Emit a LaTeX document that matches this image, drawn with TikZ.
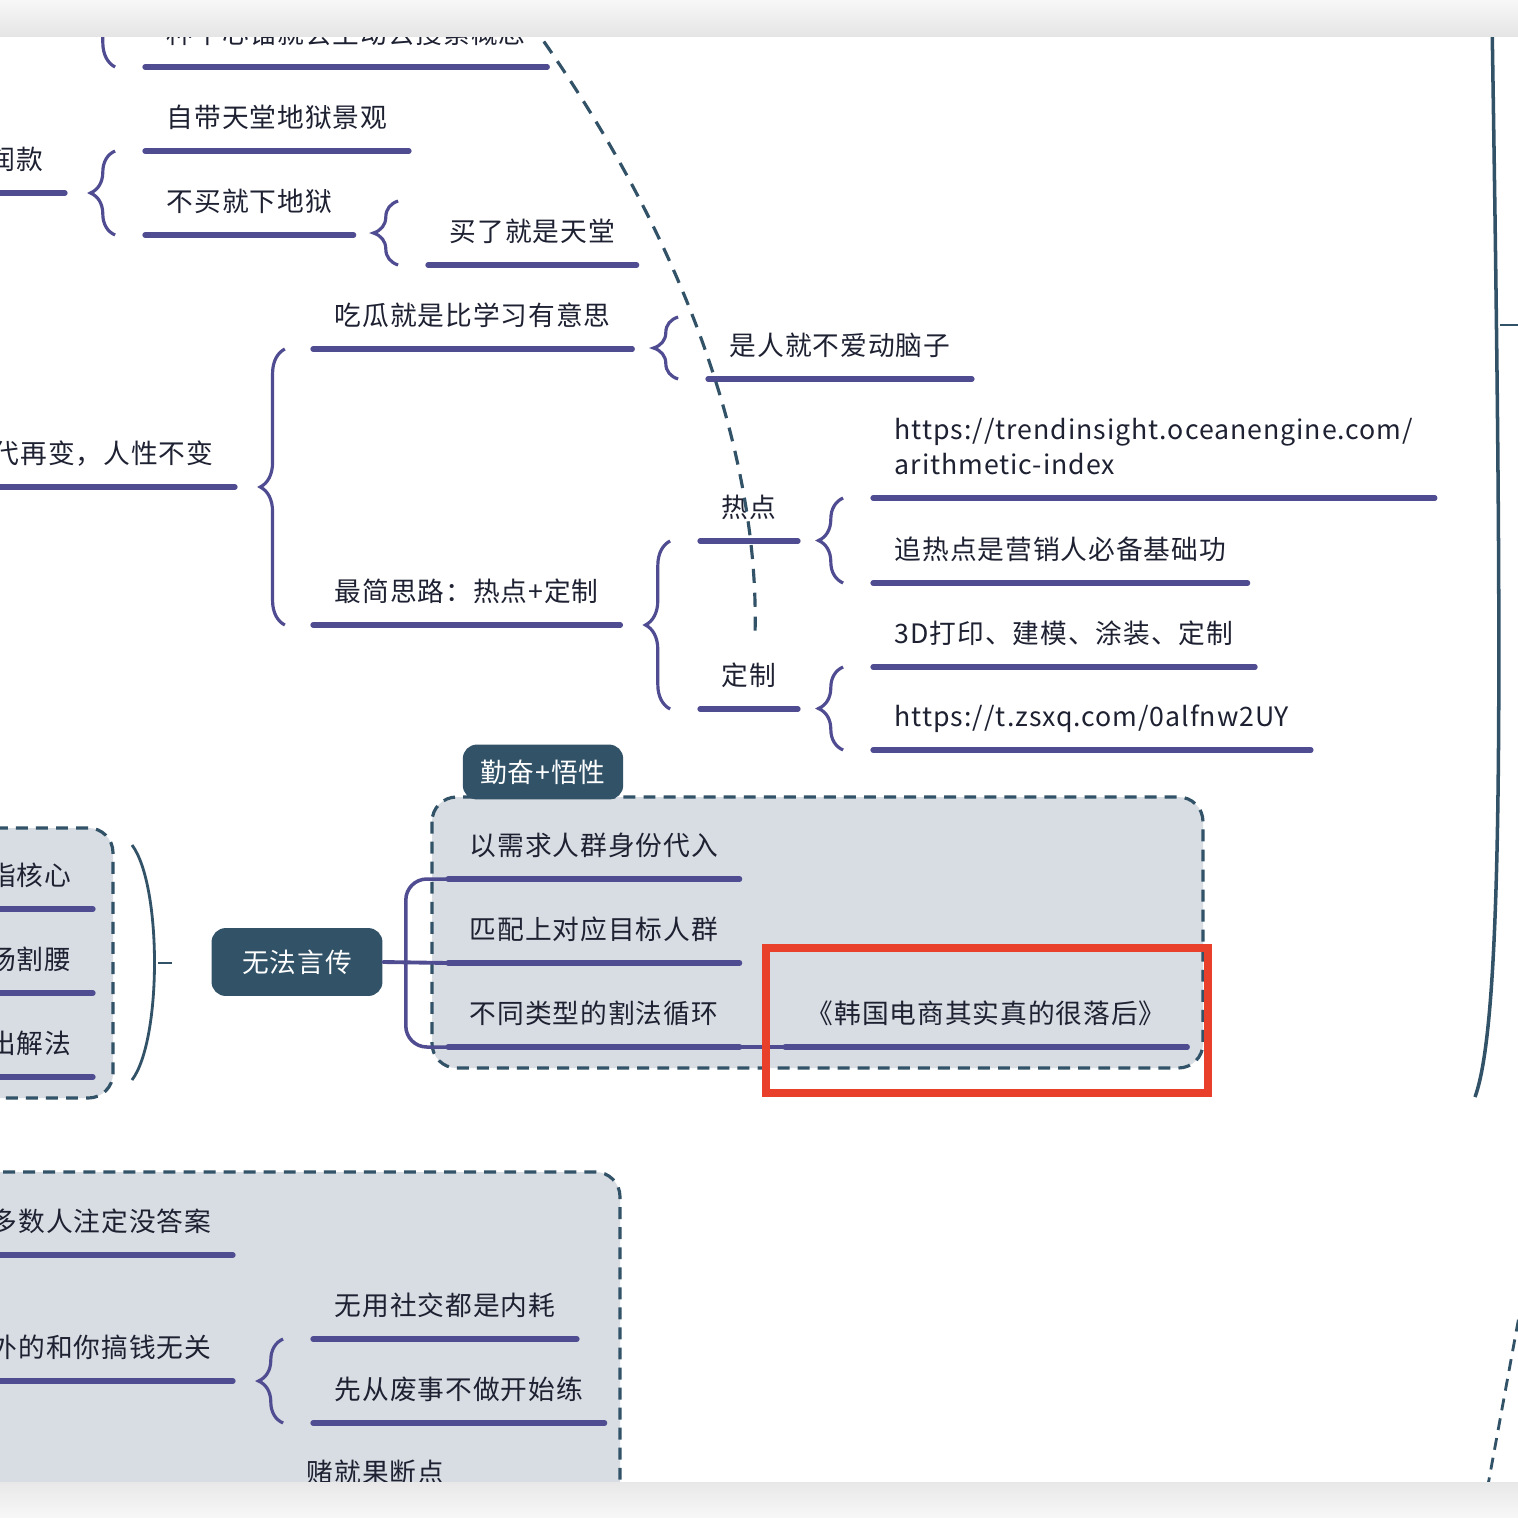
\documentclass[tikz,border=0pt]{standalone}
\usepackage{fontspec}
\setmainfont{Noto Sans CJK SC}[LetterSpace=3.5]
\usetikzlibrary{positioning, calc, decorations.pathreplacing}
\definecolor{mmpurple}{RGB}{80, 76, 145}
\definecolor{mmteal}{RGB}{50, 82, 104}
\definecolor{mmgray}{RGB}{215, 221, 226}
\definecolor{mmink}{RGB}{30, 33, 50}
\definecolor{mmred}{RGB}{232, 64, 42}

\begin{document}
\begin{tikzpicture}[x=0.01cm, y=-0.01cm,
  topic/.style={anchor=south west, font=\fontsize{7.6}{10}\selectfont, text=mmink, inner xsep=6pt, inner ysep=0pt, text depth=6.5pt},
  topicr/.style={topic, anchor=south east},
  uline/.style={draw=mmpurple, line width=1.5pt, line cap=round},
  brc/.style={draw=mmpurple, line width=0.9pt, decorate, decoration={brace, amplitude=7pt}},
  dbox/.style={draw=mmteal, fill=mmgray, line width=0.9pt, dash pattern=on 3.4pt off 2.3pt, rounded corners=7pt},
  tealbox/.style={fill=mmteal, text=white, rounded corners=4pt, font=\fontsize{7.6}{10}\selectfont},
  tealline/.style={draw=mmteal, line width=0.8pt}
]
\useasboundingbox (0,0) rectangle (1518,1518);
\clip (0,0) rectangle (1518,1518);
\fill[white] (0,0) rectangle (1518,1518);

% grey boxes
\draw[dbox] (-40,828) rectangle (113,1098);
\draw[dbox] (432,797) rectangle (1203,1068);
\draw[dbox] (-40,1172) rectangle (620,1560);
\node[tealbox, minimum width=45.6pt, minimum height=15.6pt] (tab) at (543,772) {勤奋+悟性};

% upper branch
\node[topic] (xinmao) at (145,67) {种个心锚就会主动去搜索概念};
\node[topic] (jingguan) at (145,151) {自带天堂地狱景观};
\node[topicr] (runkuan) at (65,193) {利润款};
\node[topic] (xiadiyu) at (145,235) {不买就下地狱};
\node[topic] (tiantang) at (428,265) {买了就是天堂};
\node[topicr] (renxing) at (235,487) {时代再变，人性不变};
\node[topic] (chigua) at (313,349) {吃瓜就是比学习有意思};
\node[topic] (dongnao) at (708,379) {是人就不爱动脑子};
\node[topic] (silu) at (313,625) {最简思路：热点+定制};
\node[topic] (redian) at (700,541) {热点};
\node[topic] (dingzhi) at (700,709) {定制};
\node[topic, align=left] (url1) at (873,498) {https://trendinsight.oceanengine.com/\\arithmetic-index};
\node[topic] (zhui) at (873,583) {追热点是营销人必备基础功};
\node[topic] (dayin) at (873,667) {3D打印、建模、涂装、定制};
\node[topic] (url2) at (873,750) {https://t.zsxq.com/0alfnw2UY};

% middle branch
\node[tealbox, minimum width=48.6pt, minimum height=19.3pt] (wufa) at (297,962) {无法言传};
\node[topic] (xuqiu) at (448,879) {以需求人群身份代入};
\node[topic] (pipei) at (448,963) {匹配上对应目标人群};
\node[topic] (xunhuan) at (448,1047) {不同类型的割法循环};
\node[topic] (hanguo) at (785,1047) {《韩国电商其实真的很落后》};
\node[topicr] (hexin) at (93,909) {直指核心};
\node[topicr] (geyao) at (93,993) {现场割腰};
\node[topicr] (jiefa) at (93,1077) {给出解法};

% lower branch
\node[topicr] (daan) at (233,1255) {大多数人注定没答案};
\node[topicr] (wuguan) at (233,1381) {之外的和你搞钱无关};
\node[topic] (neihao) at (313,1339) {无用社交都是内耗};
\node[topic] (feishi) at (313,1423) {先从废事不做开始练};
\node[topic] (guoduan) at (285,1506) {赌就果断点};

\foreach \n in {xinmao,jingguan,runkuan,xiadiyu,tiantang,renxing,chigua,dongnao,silu,redian,dingzhi,url1,zhui,dayin,url2,xuqiu,pipei,xunhuan,hanguo,hexin,geyao,jiefa,daan,wuguan,neihao,feishi,guoduan}
  \draw[uline] (\n.south west) -- (\n.south east);

% braces
\draw[brc] ([xshift=-8.5pt]xinmao.south west) -- ++(0,-120);
\draw[brc] ([xshift=-8.5pt]xiadiyu.south west) -- ([xshift=-8.5pt]jingguan.south west);
\draw[brc] ([xshift=-8.5pt]tiantang.south west) -- ++(0,-64);
\draw[brc] ([xshift=-8.5pt]dongnao.south west) -- ++(0,-62);
\draw[brc] ([xshift=-8pt]silu.south west) -- ([xshift=-8pt]chigua.south west);
\draw[brc] ([xshift=-8.5pt]dingzhi.south west) -- ([xshift=-8.5pt]redian.south west);
\draw[brc] ([xshift=-8.5pt]zhui.south west) -- ([xshift=-8.5pt]url1.south west);
\draw[brc] ([xshift=-8.5pt]url2.south west) -- ([xshift=-8.5pt]dayin.south west);
\draw[brc] ([xshift=-8.5pt]feishi.south west) -- ([xshift=-8.5pt]neihao.south west);

% links
\draw[uline, line width=1.1pt] (wufa.east) -- (pipei.south west);
\draw[uline, line width=1pt, rounded corners=6pt] (xuqiu.south west) -| ([xshift=-12pt]pipei.south west) |- (xunhuan.south west);
\draw[uline, line width=0.9pt] (xunhuan.south east) -- (hanguo.south west);
\draw[tealline] (132,845) .. controls (162,885) and (162,1040) .. (132,1080);
\draw[tealline] (158,963) -- (172,963);
\draw[tealline, line width=1pt] (1492,20) .. controls (1503,700) and (1503,1020) .. (1475,1097);
\draw[tealline] (1500,325) -- (1520,325);
\draw[tealline, dash pattern=on 3.4pt off 2.3pt] (1522,1300) -- (1488,1485);
\draw[tealline, line width=0.9pt, dash pattern=on 4pt off 2.8pt] (530,22) .. controls (680,230) and (760,450) .. (755,635);

% highlight
\draw[mmred, line width=2.3pt] (766,948) rectangle (1208,1093);

% window bars
\shade[top color=black!3, bottom color=black!10] (0,0) rectangle (1518,36);
\shade[top color=black!9, bottom color=black!3] (0,1482) rectangle (1518,1518);
\end{tikzpicture}
\end{document}
